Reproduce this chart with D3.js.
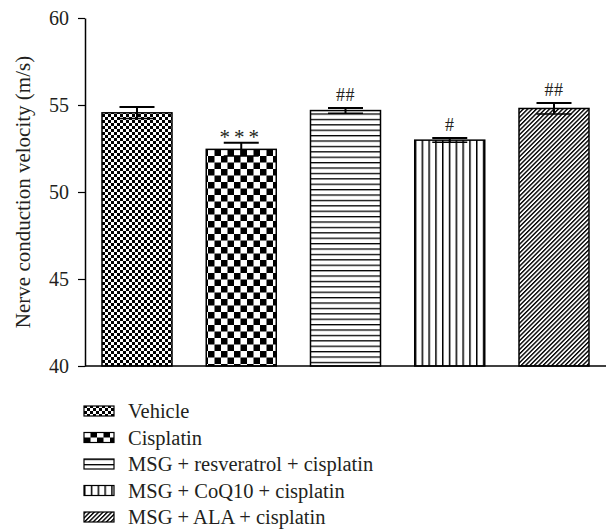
<!DOCTYPE html>
<html>
<head>
<meta charset="utf-8">
<script src="https://cdn.jsdelivr.net/npm/d3@7"></script>
<style>
  body { margin: 0; background: #fff; }
  svg { display: block; }
  text { font-family: "Liberation Serif", "DejaVu Serif", serif; fill: #231f20; }
</style>
</head>
<body>
<div id="chartDiv"></div>
<script>
// data
const groups = ['Vehicle', 'Cisplatin', 'MSG + resveratrol + cisplatin', 'MSG + CoQ10 + cisplatin', 'MSG + ALA + cisplatin'];
const means = [54.55, 52.45, 54.68, 52.98, 54.8];
const sems = [0.33, 0.38, 0.15, 0.12, 0.32];
const marks = ['', '***', '##', '#', '##'];
const patternIds = ['pVehicle', 'pCis', 'pHoriz', 'pVert', 'pDiag'];
const yTickValues = [40, 45, 50, 55, 60];

const W = 608, H = 531;
const axisX = 85, axisRight = 606, yTop = 18, yBottom = 366;

let svg = d3.select('#chartDiv').append('svg')
  .attr('width', W)
  .attr('height', H);

// patterns
let defs = svg.append('defs');

let p1 = defs.append('pattern').attr('id', 'pVehicle')
  .attr('patternUnits', 'userSpaceOnUse').attr('width', 6).attr('height', 6);
p1.append('rect').attr('width', 6).attr('height', 6).attr('fill', '#fff');
p1.append('rect').attr('width', 3).attr('height', 3).attr('fill', '#000');
p1.append('rect').attr('x', 3).attr('y', 3).attr('width', 3).attr('height', 3).attr('fill', '#000');

let p2 = defs.append('pattern').attr('id', 'pCis')
  .attr('patternUnits', 'userSpaceOnUse').attr('width', 13).attr('height', 13);
p2.append('rect').attr('width', 13).attr('height', 13).attr('fill', '#fff');
p2.append('rect').attr('width', 6.5).attr('height', 6.5).attr('fill', '#000');
p2.append('rect').attr('x', 6.5).attr('y', 6.5).attr('width', 6.5).attr('height', 6.5).attr('fill', '#000');

let p3 = defs.append('pattern').attr('id', 'pHoriz')
  .attr('patternUnits', 'userSpaceOnUse').attr('width', 10).attr('height', 5.4);
p3.append('rect').attr('width', 10).attr('height', 5.4).attr('fill', '#fff');
p3.append('rect').attr('y', 0).attr('width', 10).attr('height', 1.3).attr('fill', '#000');

let p4 = defs.append('pattern').attr('id', 'pVert')
  .attr('patternUnits', 'userSpaceOnUse').attr('width', 6.8).attr('height', 10);
p4.append('rect').attr('width', 6.8).attr('height', 10).attr('fill', '#fff');
p4.append('rect').attr('x', 0).attr('width', 1.5).attr('height', 10).attr('fill', '#000');

let p5 = defs.append('pattern').attr('id', 'pDiag')
  .attr('patternUnits', 'userSpaceOnUse').attr('width', 3.1).attr('height', 10)
  .attr('patternTransform', 'rotate(45)');
p5.append('rect').attr('width', 3.1).attr('height', 10).attr('fill', '#fff');
p5.append('rect').attr('width', 1.4).attr('height', 10).attr('fill', '#000');

// scales
const xScale = d3.scaleBand()
  .domain(groups)
  .range([axisX, axisRight])
  .paddingInner(0.3285)
  .paddingOuter(0.163);

const yScale = d3.scaleLinear()
  .domain([40, 60])
  .range([yBottom, yTop]);

// y axis
const yAxis = d3.axisLeft(yScale)
  .tickValues(yTickValues)
  .tickSize(7)
  .tickPadding(9)
  .tickSizeOuter(0);

let yAxisG = svg.append('g')
  .attr('transform', `translate(${axisX},0)`)
  .call(yAxis);
yAxisG.select('.domain').attr('stroke', '#000').attr('stroke-width', 1.5);
yAxisG.selectAll('.tick line').attr('stroke', '#000').attr('stroke-width', 1.2);
yAxisG.selectAll('.tick text')
  .style('font-family', '"Liberation Serif", "DejaVu Serif", serif')
  .style('font-size', '20px')
  .attr('fill', '#231f20');

svg.append('text')
  .attr('transform', `translate(30,${(yTop + yBottom) / 2}) rotate(-90)`)
  .attr('text-anchor', 'middle')
  .style('font-size', '21px')
  .text('Nerve conduction velocity (m/s)');

// bars
svg.selectAll('.barClass')
  .data(groups)
  .enter().append('rect')
  .attr('class', 'barClass')
  .attr('x', d => xScale(d))
  .attr('y', (d, i) => yScale(means[i]))
  .attr('width', xScale.bandwidth())
  .attr('height', (d, i) => yScale(40) - yScale(means[i]))
  .attr('fill', (d, i) => `url(#${patternIds[i]})`)
  .attr('stroke', '#000')
  .attr('stroke-width', 1.5);

// x baseline
svg.append('line')
  .attr('x1', axisX).attr('x2', axisRight)
  .attr('y1', yScale(40)).attr('y2', yScale(40))
  .attr('stroke', '#000').attr('stroke-width', 1.5);

// error bars
const capW = 35;
let errG = svg.append('g').attr('stroke', '#000').attr('stroke-width', 2);
groups.forEach((g, i) => {
  const cx = xScale(g) + xScale.bandwidth() / 2;
  const hi = yScale(means[i] + sems[i]);
  const lo = yScale(means[i] - sems[i]);
  errG.append('line').attr('x1', cx).attr('x2', cx).attr('y1', hi).attr('y2', lo);
  errG.append('line').attr('x1', cx - capW / 2).attr('x2', cx + capW / 2).attr('y1', hi).attr('y2', hi);
  errG.append('line').attr('x1', cx - capW / 2).attr('x2', cx + capW / 2).attr('y1', lo).attr('y2', lo)
    .attr('stroke-width', 1.5);
});

// significance marks
groups.forEach((g, i) => {
  if (!marks[i]) return;
  const cx = xScale(g) + xScale.bandwidth() / 2;
  const top = yScale(means[i] + sems[i]);
  const star = marks[i].indexOf('*') >= 0;
  svg.append('text')
    .attr('x', cx)
    .attr('y', star ? top + 1 : top - 7)
    .attr('text-anchor', 'middle')
    .style('font-size', star ? '21px' : '18px')
    .style('letter-spacing', star ? '4px' : '0.5px')
    .attr('fill', '#333')
    .text(marks[i]);
});

// legend
const legendY0 = 411, legendStep = 26.5;
let legend = svg.selectAll('.legendItem')
  .data(groups)
  .enter().append('g')
  .attr('class', 'legendItem')
  .attr('transform', (d, i) => `translate(84,${legendY0 + i * legendStep})`);

legend.append('rect')
  .attr('x', 0).attr('y', -5)
  .attr('width', 30).attr('height', 10)
  .attr('fill', (d, i) => `url(#${patternIds[i]})`)
  .attr('stroke', '#000')
  .attr('stroke-width', 1.2);

legend.append('text')
  .attr('x', 44)
  .attr('y', 0)
  .attr('dy', '0.35em')
  .style('font-size', '20.5px')
  .text(d => d);
</script>
</body>
</html>
